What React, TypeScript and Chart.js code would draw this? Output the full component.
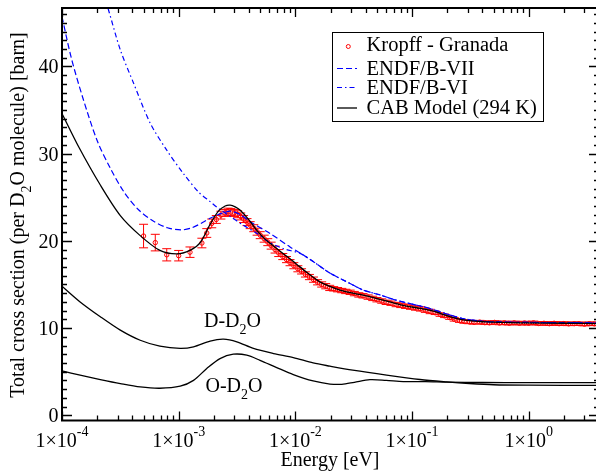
import React, { useEffect, useRef } from "react";
import { Chart, registerables } from "chart.js";
Chart.register(...registerables);

const W = 604;
const H = 471;
const FONT = '"Liberation Serif", "Times New Roman", serif';

// Kropff - Granada experimental data
const dataE = [5.0e-4, 6.3e-4, 7.9e-4, 1.0e-3, 1.25e-3, 1.58e-3, 1.74e-3, 1.92e-3, 2.1e-3, 2.3e-3, 2.5e-3, 2.65e-3, 2.8e-3, 3.0e-3, 3.2e-3, 3.4e-3, 3.6e-3, 3.85e-3, 4.1e-3, 4.4e-3, 4.7e-3, 5.0e-3, 5.4e-3, 5.8e-3, 6.2e-3, 6.7e-3, 7.2e-3, 7.8e-3, 8.4e-3, 9.0e-3, 9.7e-3, 1.05e-2, 1.13e-2, 1.22e-2, 1.32e-2, 1.43e-2, 1.55e-2, 1.68e-2, 1.82e-2, 1.97e-2, 2.13e-2, 2.3e-2, 2.5e-2, 2.7e-2, 2.95e-2, 3.2e-2, 3.5e-2, 3.8e-2, 4.2e-2, 4.6e-2, 5.0e-2, 5.5e-2, 6.0e-2, 6.6e-2, 7.3e-2, 8.0e-2, 8.8e-2, 9.7e-2, 0.107, 0.118, 0.13, 0.143, 0.158, 0.174, 0.19, 0.21, 0.23, 0.255, 0.28, 0.31, 0.34, 0.38, 0.42, 0.46, 0.51, 0.56, 0.62, 0.68, 0.75, 0.83, 0.92, 1.0, 1.1, 1.22, 1.35, 1.5, 1.65, 1.82, 2.0, 2.2, 2.45, 2.7, 3.0, 3.3, 3.65];
const dataY = [20.55, 19.8, 18.4, 18.3, 18.7, 19.75, 20.9, 22.0, 22.45, 22.95, 23.2, 23.35, 23.3, 23.2, 23.05, 22.8, 22.5, 22.15, 21.8, 21.45, 21.05, 20.65, 20.25, 19.85, 19.45, 19.0, 18.6, 18.2, 17.85, 17.5, 17.15, 16.8, 16.5, 16.15, 15.85, 15.55, 15.25, 15.0, 14.8, 14.6, 14.5, 14.4, 14.3, 14.2, 14.1, 13.95, 13.8, 13.7, 13.55, 13.4, 13.25, 13.1, 12.95, 12.85, 12.7, 12.6, 12.5, 12.4, 12.3, 12.2, 12.05, 11.9, 11.75, 11.55, 11.4, 11.2, 11.0, 10.85, 10.75, 10.7, 10.65, 10.68, 10.62, 10.6, 10.65, 10.58, 10.6, 10.55, 10.6, 10.55, 10.58, 10.55, 10.6, 10.52, 10.55, 10.5, 10.55, 10.5, 10.52, 10.48, 10.5, 10.5, 10.45, 10.5, 10.48];
const dataErr = [1.35, 0.95, 0.7, 0.6, 0.6, 0.55, 0.5, 0.5, 0.45, 0.45, 0.4, 0.4, 0.4, 0.4, 0.4, 0.4, 0.4, 0.4, 0.4, 0.4, 0.4, 0.4, 0.4, 0.4, 0.4, 0.4, 0.4, 0.35, 0.35, 0.35, 0.35, 0.35, 0.3, 0.3, 0.3, 0.3, 0.3, 0.3, 0.3, 0.3, 0.25, 0.25, 0.25, 0.25, 0.25, 0.25, 0.25, 0.25, 0.25, 0.25, 0.25, 0.25, 0.25, 0.25, 0.25, 0.25, 0.25, 0.25, 0.25, 0.25, 0.25, 0.25, 0.2, 0.2, 0.2, 0.2, 0.2, 0.2, 0.2, 0.2, 0.2, 0.2, 0.2, 0.2, 0.2, 0.2, 0.2, 0.2, 0.2, 0.2, 0.2, 0.2, 0.2, 0.2, 0.2, 0.2, 0.2, 0.2, 0.2, 0.2, 0.2, 0.2, 0.2, 0.2, 0.2];

// CAB Model (294 K) total
const cabE = [1e-4, 1.4e-4, 2.13e-4, 3.16e-4, 4.68e-4, 6.9e-4, 9.6e-4, 1.25e-3, 1.53e-3, 1.86e-3, 2.19e-3, 2.5e-3, 2.76e-3, 3.05e-3, 3.37e-3, 4.0e-3, 4.67e-3, 5.5e-3, 6.5e-3, 7.4e-3, 8.5e-3, 1.03e-2, 1.25e-2, 1.62e-2, 2.0e-2, 2.41e-2, 3.1e-2, 3.57e-2, 5.3e-2, 7.8e-2, 0.117, 0.14, 0.165, 0.19, 0.225, 0.26, 0.31, 0.43, 0.85, 2.0, 4.0];
const cabY = [34.6, 30.7, 26.4, 22.9, 20.6, 18.9, 18.5, 18.9, 19.8, 21.9, 23.4, 24.0, 24.1, 23.9, 23.5, 22.4, 21.2, 20.2, 19.4, 18.8, 18.2, 17.3, 16.4, 15.3, 14.75, 14.35, 14.0, 13.85, 13.3, 12.7, 12.25, 12.05, 11.8, 11.5, 11.2, 11.0, 10.85, 10.7, 10.6, 10.55, 10.5];

// ENDF/B-VII
const endf7E = [1e-4, 1.2e-4, 1.5e-4, 2e-4, 2.6e-4, 3.4e-4, 4.5e-4, 6e-4, 8e-4, 1.05e-3, 1.3e-3, 1.6e-3, 1.9e-3, 2.34e-3, 2.8e-3, 3.37e-3, 4.2e-3, 6.07e-3, 9.0e-3, 1.1e-2, 1.43e-2, 1.98e-2, 2.76e-2, 3.83e-2, 5.3e-2, 7.3e-2, 0.1, 0.133, 0.2, 0.27, 0.43, 1.0, 4.0];
const endf7Y = [45.7, 41.0, 36.5, 31.5, 28.3, 25.6, 23.6, 22.3, 21.5, 21.25, 21.5, 22.1, 22.65, 23.15, 23.4, 23.0, 22.1, 20.85, 19.3, 18.6, 17.6, 16.3, 15.3, 14.35, 13.8, 13.2, 12.75, 12.36, 11.6, 11.1, 10.75, 10.65, 10.6];

// ENDF/B-VI
const endf6E = [2.3e-4, 2.5e-4, 3.16e-4, 4.1e-4, 5.7e-4, 7.9e-4, 1.1e-3, 1.48e-3, 1.86e-3, 2.2e-3, 2.76e-3, 3.58e-3, 4.67e-3, 5.87e-3, 7.9e-3, 1.1e-2, 1.43e-2, 1.98e-2, 2.76e-2, 3.83e-2, 5.3e-2, 7.3e-2, 0.1, 0.133, 0.2, 0.27, 0.43, 1.0, 4.0];
const endf6Y = [48.0, 46.5, 41.9, 38.1, 33.5, 30.4, 27.7, 25.6, 24.5, 23.7, 22.8, 21.8, 20.86, 19.9, 19.1, 18.56, 17.6, 16.3, 15.3, 14.35, 13.8, 13.2, 12.75, 12.36, 11.6, 11.1, 10.75, 10.65, 10.6];

// D-D2O partial
const ddE = [1e-4, 1.43e-4, 2.13e-4, 3.16e-4, 4.68e-4, 6.9e-4, 1.03e-3, 1.34e-3, 1.86e-3, 2.42e-3, 3.15e-3, 4.37e-3, 6.5e-3, 9.6e-3, 1.42e-2, 1.98e-2, 3.1e-2, 6.05e-2, 0.117, 0.197, 0.31, 0.5, 1.0, 4.0];
const ddY = [14.8, 13.0, 11.3, 9.76, 8.6, 7.92, 7.66, 7.84, 8.5, 8.72, 8.42, 7.66, 7.08, 6.62, 6.0, 5.63, 5.17, 4.6, 4.1, 3.83, 3.64, 3.5, 3.45, 3.42];

// O-D2O partial
const odE = [1e-4, 1.43e-4, 2.13e-4, 3.16e-4, 4.68e-4, 6.9e-4, 1.03e-3, 1.34e-3, 1.74e-3, 2.26e-3, 2.94e-3, 3.83e-3, 4.98e-3, 6.92e-3, 9.6e-3, 1.42e-2, 1.98e-2, 2.5e-2, 3.2e-2, 4.35e-2, 6.0e-2, 8.4e-2, 0.13, 0.2, 0.4, 1.0, 4.0];
const odY = [5.09, 4.6, 4.1, 3.64, 3.25, 3.1, 3.33, 4.0, 5.36, 6.5, 7.0, 6.89, 6.3, 5.47, 4.67, 3.94, 3.58, 3.55, 3.78, 4.08, 4.0, 3.86, 3.86, 3.8, 3.76, 3.75, 3.75];

const xMajorTicks = [1e-4, 1e-3, 1e-2, 1e-1, 1e0];
const xTickExponents = ["-4", "-3", "-2", "-1", "0"];
const yMajorTicks = [0, 10, 20, 30, 40];
const legendLabels = ["Kropff - Granada", "ENDF/B-VII", "ENDF/B-VI", "CAB Model (294 K)"];

const X_MIN = 1e-4;
const X_MAX = 4;
const Y_MIN = -0.6;
const Y_MAX = 46.7;

const pts = (xs: number[], ys: number[]) => xs.map((x, i) => ({ x, y: ys[i] }));

function drawRich(ctx: CanvasRenderingContext2D, parts: { t: string; sub?: boolean }[], x: number, y: number, size: number, subSize: number, center: boolean) {
  let total = 0;
  const widths = parts.map((p) => {
    ctx.font = `${p.sub ? subSize : size}px ${FONT}`;
    const w = ctx.measureText(p.t).width;
    total += w;
    return w;
  });
  let cx = center ? x - total / 2 : x;
  ctx.textAlign = "left";
  ctx.textBaseline = "alphabetic";
  parts.forEach((p, i) => {
    ctx.font = `${p.sub ? subSize : size}px ${FONT}`;
    ctx.fillText(p.t, cx, p.sub ? y + 7 : y);
    cx += widths[i];
  });
}

const decor = {
  id: "decor",
  beforeDatasetsDraw(chart: any) {
    const { ctx, chartArea } = chart;
    const xs = chart.scales.x;
    const ys = chart.scales.y;
    ctx.save();
    ctx.beginPath();
    ctx.rect(chartArea.left, chartArea.top, chartArea.right - chartArea.left, chartArea.bottom - chartArea.top);
    ctx.clip();
    ctx.strokeStyle = "#ff0000";
    ctx.lineWidth = 1;
    dataE.forEach((e, i) => {
      const px = xs.getPixelForValue(e);
      const p1 = ys.getPixelForValue(dataY[i] + dataErr[i]);
      const p2 = ys.getPixelForValue(dataY[i] - dataErr[i]);
      ctx.beginPath();
      ctx.moveTo(px, p1);
      ctx.lineTo(px, p2);
      ctx.moveTo(px - 4.5, p1);
      ctx.lineTo(px + 4.5, p1);
      ctx.moveTo(px - 4.5, p2);
      ctx.lineTo(px + 4.5, p2);
      ctx.stroke();
    });
    ctx.restore();
  },
  afterDraw(chart: any) {
    const { ctx, chartArea } = chart;
    const xs = chart.scales.x;
    const ys = chart.scales.y;
    const L = chartArea.left, R = chartArea.right, T = chartArea.top, B = chartArea.bottom;
    ctx.save();
    ctx.fillStyle = "#000";
    ctx.strokeStyle = "#000";
    // ticks
    ctx.lineWidth = 1.3;
    ctx.beginPath();
    for (let d = -4; d <= 0; d++) {
      for (let m = 1; m <= 9; m++) {
        const v = m * Math.pow(10, d);
        if (v > X_MAX) break;
        const px = Math.round(xs.getPixelForValue(v)) + 0.5;
        const len = m === 1 ? 9 : 5;
        ctx.moveTo(px, B);
        ctx.lineTo(px, B - len);
        ctx.moveTo(px, T);
        ctx.lineTo(px, T + len);
      }
    }
    for (let v = 0; v <= Math.floor(Y_MAX); v++) {
      const py = Math.round(ys.getPixelForValue(v)) + 0.5;
      const len = v % 10 === 0 ? 10 : 5;
      ctx.moveTo(L, py);
      ctx.lineTo(L + len, py);
      ctx.moveTo(R, py);
      ctx.lineTo(R - len, py);
    }
    ctx.stroke();
    // frame
    ctx.lineWidth = 2;
    ctx.strokeRect(L, T, R - L, B - T);

    // x tick labels
    xMajorTicks.forEach((v, i) => {
      const px = xs.getPixelForValue(v);
      ctx.font = `20px ${FONT}`;
      const w1 = ctx.measureText("1×10").width;
      ctx.font = `14px ${FONT}`;
      const w2 = ctx.measureText(xTickExponents[i]).width;
      const start = px - (w1 + w2) / 2;
      ctx.textAlign = "left";
      ctx.textBaseline = "alphabetic";
      ctx.font = `20px ${FONT}`;
      ctx.fillText("1×10", start, B + 26);
      ctx.font = `14px ${FONT}`;
      ctx.fillText(xTickExponents[i], start + w1, B + 15.5);
    });
    // y tick labels
    ctx.font = `20px ${FONT}`;
    ctx.textAlign = "right";
    ctx.textBaseline = "alphabetic";
    yMajorTicks.forEach((v) => {
      const py = ys.getPixelForValue(v);
      ctx.fillText(String(v), L - 3.5, py + 7);
    });
    // x title
    ctx.font = `20px ${FONT}`;
    ctx.textAlign = "center";
    ctx.fillText("Energy [eV]", (L + R) / 2 - 0.5, B + 45.5);
    // y title
    ctx.save();
    ctx.translate(24, 215);
    ctx.rotate(-Math.PI / 2);
    drawRich(ctx, [{ t: "Total cross section (per D" }, { t: "2", sub: true }, { t: "O molecule) [barn]" }], 0, 0, 20, 14, true);
    ctx.restore();

    // annotations
    drawRich(ctx, [{ t: "D-D" }, { t: "2", sub: true }, { t: "O" }], 204, 327, 20, 14, false);
    drawRich(ctx, [{ t: "O-D" }, { t: "2", sub: true }, { t: "O" }], 205.5, 391.5, 20, 14, false);

    // legend
    ctx.lineWidth = 1;
    ctx.strokeStyle = "#000";
    ctx.strokeRect(332.5, 32.5, 211, 89);
    const tx = 366.5;
    const rows = [50.7, 75, 94, 114];
    const sy = [46.5, 68.5, 87.5, 108];
    ctx.font = `20.5px ${FONT}`;
    ctx.textAlign = "left";
    ctx.fillStyle = "#000";
    legendLabels.forEach((lab, i) => ctx.fillText(lab, tx, rows[i]));
    // marker
    ctx.strokeStyle = "#ff0000";
    ctx.lineWidth = 1;
    ctx.beginPath();
    ctx.arc(348.3, sy[0], 2, 0, Math.PI * 2);
    ctx.stroke();
    // dashed
    ctx.strokeStyle = "#0000ff";
    ctx.lineWidth = 1.2;
    ctx.setLineDash([6, 3]);
    ctx.beginPath();
    ctx.moveTo(337, sy[1]);
    ctx.lineTo(357, sy[1]);
    ctx.stroke();
    ctx.setLineDash([5, 3, 1.5, 3]);
    ctx.beginPath();
    ctx.moveTo(337, sy[2]);
    ctx.lineTo(357, sy[2]);
    ctx.stroke();
    ctx.setLineDash([]);
    ctx.strokeStyle = "#000";
    ctx.lineWidth = 1.3;
    ctx.beginPath();
    ctx.moveTo(337, sy[3]);
    ctx.lineTo(357, sy[3]);
    ctx.stroke();
    ctx.restore();
  },
};

export default function App() {
  const ref = useRef<HTMLCanvasElement | null>(null);
  useEffect(() => {
    if (!ref.current) return;
    const line = (label: string, xs: number[], ys: number[], color: string, width: number, dash: number[]) => ({
      label,
      data: pts(xs, ys),
      showLine: true,
      borderColor: color,
      borderWidth: width,
      borderDash: dash,
      pointRadius: 0,
      fill: false,
      tension: 0.3,
    });
    const chart = new Chart(ref.current, {
      type: "scatter",
      data: {
        datasets: [
          line("CAB Model (294 K)", cabE, cabY, "#000000", 1.3, []),
          line("D-D2O", ddE, ddY, "#000000", 1.3, []),
          line("O-D2O", odE, odY, "#000000", 1.3, []),
          line("ENDF/B-VII", endf7E, endf7Y, "#0000ff", 1.2, [6, 3]),
          line("ENDF/B-VI", endf6E, endf6Y, "#0000ff", 1.2, [5, 3, 1.5, 3]),
          {
            label: "Kropff - Granada",
            data: pts(dataE, dataY),
            showLine: false,
            pointRadius: 2.2,
            pointBorderWidth: 1,
            pointBorderColor: "#ff0000",
            pointBackgroundColor: "rgba(0,0,0,0)",
          } as any,
        ],
      },
      options: {
        animation: false,
        responsive: false,
        devicePixelRatio: 1,
        layout: { padding: { left: 62, top: 8, right: W - 600, bottom: H - 420.5 } },
        scales: {
          x: { type: "logarithmic", min: X_MIN, max: X_MAX, display: false },
          y: { type: "linear", min: Y_MIN, max: Y_MAX, display: false },
        },
        plugins: { legend: { display: false }, tooltip: { enabled: false }, title: { display: false } },
        events: [],
      },
      plugins: [decor],
    });
    return () => chart.destroy();
  }, []);
  return (
    <div style={{ position: "fixed", left: 0, top: 0, width: 596, height: 471, overflow: "hidden", background: "#fff" }}>
      <canvas ref={ref} width={W} height={H} style={{ width: W, height: H, display: "block" }} />
    </div>
  );
}
